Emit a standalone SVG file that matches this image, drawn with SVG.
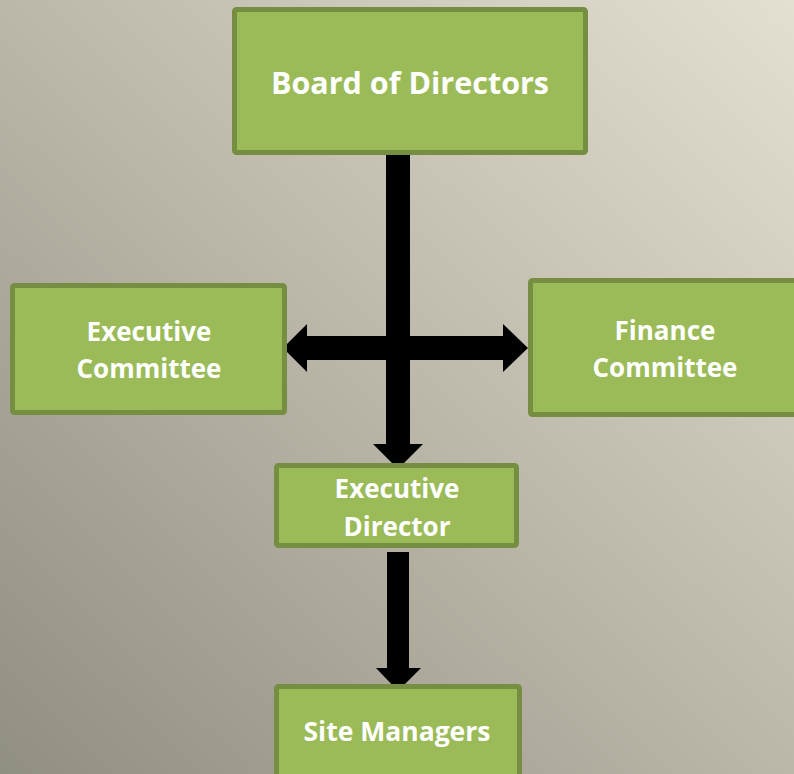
<svg xmlns="http://www.w3.org/2000/svg" width="794" height="774" viewBox="0 0 794 774">
  <defs>
    <linearGradient id="bg" x1="1" y1="0" x2="0" y2="1">
      <stop offset="0" stop-color="#E3E0D1"/>
      <stop offset="0.5" stop-color="#BBB8AA"/>
      <stop offset="1" stop-color="#918E82"/>
    </linearGradient>
  </defs>
  <style>
    .box { fill: #9BBB59; stroke: #758E41; stroke-width: 5; }
    .lbl { fill: #FFFFFF; font-family: "Open Sans", "Liberation Sans", sans-serif; font-weight: 700; text-anchor: middle; }
    .arrow { fill: #000000; }
  </style>
  <rect x="0" y="0" width="794" height="774" fill="url(#bg)"/>

  <g id="connectors">
    <polygon class="arrow" points="386,155 410,155 410,444 423,444 398,469 373,444 386,444"/>
    <polygon class="arrow" points="283,348 307,324 307,336 503,336 503,324 528,348 503,372 503,360 307,360 307,372"/>
    <polygon class="arrow" points="387,552 409,552 409,668 421,668 398,691 376,668 387,668"/>
  </g>

  <g id="board">
    <rect class="box" x="234.5" y="9.5" width="351" height="143" rx="2"/>
    <text class="lbl" x="410" y="94" font-size="30.5">Board of Directors</text>
  </g>
  <g id="exec-committee">
    <rect class="box" x="12.5" y="285.5" width="272" height="127" rx="2"/>
    <text class="lbl" x="149" y="341" font-size="26">Executive</text>
    <text class="lbl" x="149" y="378" font-size="26">Committee</text>
  </g>
  <g id="finance-committee">
    <rect class="box" x="530.5" y="280.5" width="272" height="134" rx="2"/>
    <text class="lbl" x="665" y="340" font-size="26">Finance</text>
    <text class="lbl" x="665" y="377" font-size="26">Committee</text>
  </g>
  <g id="exec-director">
    <rect class="box" x="276.5" y="465.5" width="240" height="80" rx="2"/>
    <text class="lbl" x="397" y="498" font-size="26">Executive</text>
    <text class="lbl" x="397" y="536" font-size="26">Director</text>
  </g>
  <g id="site-managers">
    <rect class="box" x="276.5" y="686.5" width="243" height="92" rx="2"/>
    <text class="lbl" x="397" y="741" font-size="26.5">Site Managers</text>
  </g>
</svg>
